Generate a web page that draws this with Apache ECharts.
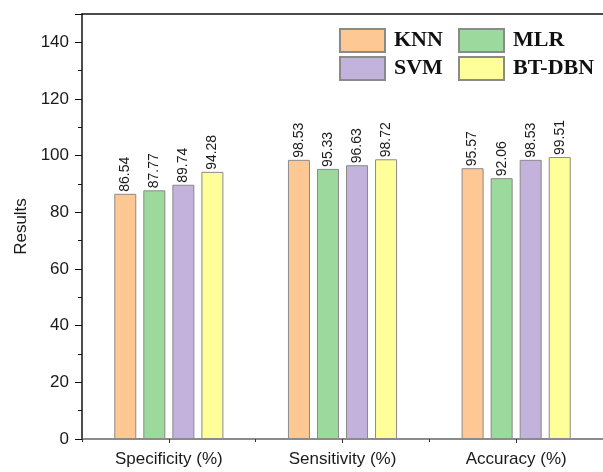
<!DOCTYPE html>
<html>
<head>
<meta charset="utf-8">
<script src="https://cdn.jsdelivr.net/npm/echarts@6/dist/echarts.min.js"></script>
<style>html,body{margin:0;padding:0;background:#fff}#c{width:603px;height:472px}</style>
</head>
<body>
<div id="c"></div>
<script>
var categories = ['Specificity (%)', 'Sensitivity (%)', 'Accuracy (%)'];
var knn = [86.54, 98.53, 95.57];
var mlr = [87.77, 95.33, 92.06];
var svm = [89.74, 96.63, 98.53];
var btdbn = [94.28, 98.72, 99.51];
var seriesNames = ['KNN', 'MLR', 'SVM', 'BT-DBN'];
var colors = ['#FEC895', '#9CD99C', '#C3B3DC', '#FFFF99'];
var yTicks = [0, 20, 40, 60, 80, 100, 120, 140];

var chart = echarts.init(document.getElementById('c'));
var sans = 'Liberation Sans, Arial, sans-serif';
var serif = 'Liberation Serif, Times New Roman, serif';
function mk(name, data, i) {
  return {
    name: name, type: 'bar', data: data, barWidth: 22, barGap: '32%',
    xAxisIndex: 0, yAxisIndex: 0,
    itemStyle: { color: colors[i], borderColor: '#8a8a8a', borderWidth: 1 },
    label: {
      show: true, position: 'top', rotate: 90, align: 'left', verticalAlign: 'middle',
      distance: 2, fontSize: 14, fontFamily: sans, color: '#1a1a1a',
      formatter: function (p) { return p.value.toFixed(2); }
    }
  };
}
var legendCommon = {
  orient: 'vertical', icon: 'rect', itemWidth: 45, itemHeight: 23, itemGap: 3, padding: 0,
  textStyle: { fontFamily: serif, fontWeight: 'bold', fontSize: 22, color: '#111', padding: [0, 0, 0, 4] }
};
chart.setOption({
  animation: false,
  color: colors,
  grid: { left: 82, top: 14, width: 530, height: 425 },
  legend: [
    Object.assign({ left: 339, top: 28, data: [seriesNames[0], seriesNames[2]] }, legendCommon),
    Object.assign({ left: 458, top: 28, data: [seriesNames[1], seriesNames[3]] }, legendCommon)
  ],
  xAxis: [
    {
      type: 'category', data: categories, position: 'bottom',
      axisLine: { show: true, lineStyle: { color: '#666', width: 1.5 } },
      axisTick: { show: true, alignWithLabel: true, length: 4, lineStyle: { color: '#333' } },
      axisLabel: { fontSize: 17, fontFamily: sans, color: '#1a1a1a', margin: 12 }
    },
    {
      type: 'category', data: categories, position: 'bottom',
      axisLine: { show: false },
      axisTick: { show: true, alignWithLabel: false, length: 3, lineStyle: { color: '#333' } },
      axisLabel: { show: false }
    },
    {
      type: 'category', data: categories, position: 'top',
      axisLine: { show: true, lineStyle: { color: '#111', width: 1.5 } },
      axisTick: { show: false }, axisLabel: { show: false }
    }
  ],
  yAxis: {
    type: 'value', min: 0, max: 150, interval: 20,
    name: 'Results', nameLocation: 'middle', nameGap: 50, nameRotate: 90,
    nameTextStyle: { fontSize: 17, fontFamily: sans, color: '#1a1a1a' },
    axisLine: { show: true, lineStyle: { color: '#111', width: 1.5 } },
    axisTick: { show: true, length: 7, lineStyle: { color: '#111' } },
    minorTick: { show: true, splitNumber: 2, length: 4, lineStyle: { color: '#111' } },
    splitLine: { show: false },
    axisLabel: {
      fontSize: 17, fontFamily: sans, color: '#1a1a1a', margin: 13,
      formatter: function (v) { return yTicks.indexOf(v) >= 0 ? String(v) : ''; }
    }
  },
  series: [mk('KNN', knn, 0), mk('MLR', mlr, 1), mk('SVM', svm, 2), mk('BT-DBN', btdbn, 3)]
});
</script>
</body>
</html>
